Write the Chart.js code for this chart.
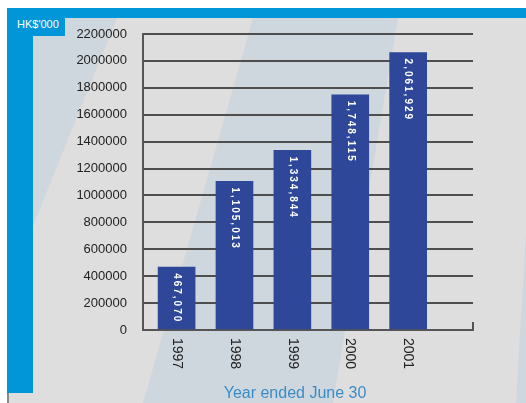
<!DOCTYPE html>
<html lang="en"><head>
<meta charset="utf-8">
<script src="https://cdn.jsdelivr.net/npm/chart.js@4/dist/chart.umd.min.js"></script>
<style>
  html, body { margin: 0; padding: 0; background: #fff; }
  #wrap { position: relative; width: 526px; height: 403px; overflow: hidden; }
  .abs { position: absolute; }
  #panel { left: 7px; top: 8px; width: 519px; height: 395px; background: #dedede; border-left: 2px solid #8a8a8a; box-sizing: border-box; }
  .stripe { background: #cfd7de; left: 0; top: 0; width: 526px; height: 403px; }
  #s1 { clip-path: polygon(33px 18px, 117px 18px, 33px 226px); }
  #s2 { clip-path: polygon(253px 18px, 398px 18px, 333px 403px, 143px 403px); }
  #s3 { clip-path: polygon(526px 230px, 526px 403px, 516px 403px); }
  #topbar { left: 7px; top: 8px; width: 519px; height: 10px; background: #0096d8; }
  #leftbar { left: 7px; top: 8px; width: 26px; height: 385px; background: #0096d8; }
  #unitbox { left: 7px; top: 8px; width: 58px; height: 28px; background: #0096d8; }
  #unit { left: 17px; top: 18px; color: #fff; font: 11px "Liberation Sans", Arial, sans-serif; }
  canvas { position: absolute; left: 0; top: 0; }
</style>
</head>
<body>
<div id="wrap">
  <div id="panel" class="abs"></div>
  <div id="s1" class="abs stripe"></div>
  <div id="s2" class="abs stripe"></div>
  <div id="s3" class="abs stripe"></div>
  <div id="topbar" class="abs"></div>
  <div id="leftbar" class="abs"></div>
  <div id="unitbox" class="abs"></div>
  <div id="unit" class="abs">HK$'000</div>
  <canvas id="myChart" width="526" height="403"></canvas>
</div>
<script>
  const years = ['1997', '1998', '1999', '2000', '2001'];
  const revenue = [467070, 1105013, 1334844, 1748115, 2061929];
  const yTicks = [0, 200000, 400000, 600000, 800000, 1000000, 1200000, 1400000, 1600000, 1800000, 2000000, 2200000];
  const xTitle = 'Year ended June 30';

  // draws rotated year labels, value labels inside bars, axis end tick, title
  const decor = {
    id: 'decor',
    afterDatasetsDraw(chart) {
      const ctx = chart.ctx;
      const area = chart.chartArea;
      const xs = chart.scales.x, ys = chart.scales.y;
      const bars = chart.getDatasetMeta(0).data;
      ctx.save();
      // small tick at right end of x axis
      ctx.strokeStyle = '#555';
      ctx.lineWidth = 2;
      const y0 = ys.getPixelForValue(0);
      ctx.beginPath();
      ctx.moveTo(area.right, y0);
      ctx.lineTo(area.right, y0 - 8);
      ctx.stroke();

      bars.forEach((bar, i) => {
        // value label
        ctx.save();
        ctx.translate(bar.x, bar.y + 6);
        ctx.rotate(Math.PI / 2);
        ctx.fillStyle = '#fff';
        ctx.font = 'bold 10px "Liberation Sans", Arial, sans-serif';
        ctx.letterSpacing = '2px';
        ctx.textAlign = 'left';
        ctx.textBaseline = 'middle';
        ctx.fillText(revenue[i].toLocaleString('en-US'), 0, 0);
        ctx.restore();
        // year label
        ctx.save();
        ctx.translate(xs.getPixelForValue(i), y0 + 8);
        ctx.rotate(Math.PI / 2);
        ctx.fillStyle = '#222';
        ctx.font = '14px "Liberation Sans", Arial, sans-serif';
        ctx.textAlign = 'left';
        ctx.textBaseline = 'middle';
        ctx.fillText(years[i], 0, 0);
        ctx.restore();
      });

      ctx.fillStyle = '#3a8cc6';
      ctx.font = '16px "Liberation Sans", Arial, sans-serif';
      ctx.textAlign = 'center';
      ctx.textBaseline = 'alphabetic';
      ctx.fillText(xTitle, 295, 398);
      ctx.restore();
    }
  };

  const ctx = document.getElementById('myChart').getContext('2d');
  const myChart = new Chart(ctx, {
    type: 'bar',
    data: {
      datasets: [{
        data: revenue.map((v, i) => ({ x: i, y: v })),
        backgroundColor: '#2e4798',
        barThickness: 37
      }]
    },
    options: {
      responsive: false,
      animation: false,
      layout: { padding: { left: 0, top: 34, right: 53, bottom: 73 } },
      plugins: { legend: { display: false }, tooltip: { enabled: false } },
      scales: {
        x: {
          type: 'linear',
          offset: false,
          min: -0.58,
          max: 5.12,
          grid: { display: false },
          border: { color: '#555', width: 2 },
          ticks: { display: false },
          afterFit(scale) { scale.height = 0; }
        },
        y: {
          min: 0,
          max: 2200000,
          afterBuildTicks(scale) { scale.ticks = yTicks.map(v => ({ value: v })); },
          grid: { color: '#4e4e4e', lineWidth: 2, drawTicks: false },
          border: { color: '#555', width: 2 },
          ticks: {
            padding: 16,
            color: '#222',
            font: { family: '"Liberation Sans", Arial, sans-serif', size: 13 },
            callback: v => String(v)
          },
          afterFit(scale) { scale.width = 143; }
        }
      }
    },
    plugins: [decor]
  });
</script>
</body></html>
